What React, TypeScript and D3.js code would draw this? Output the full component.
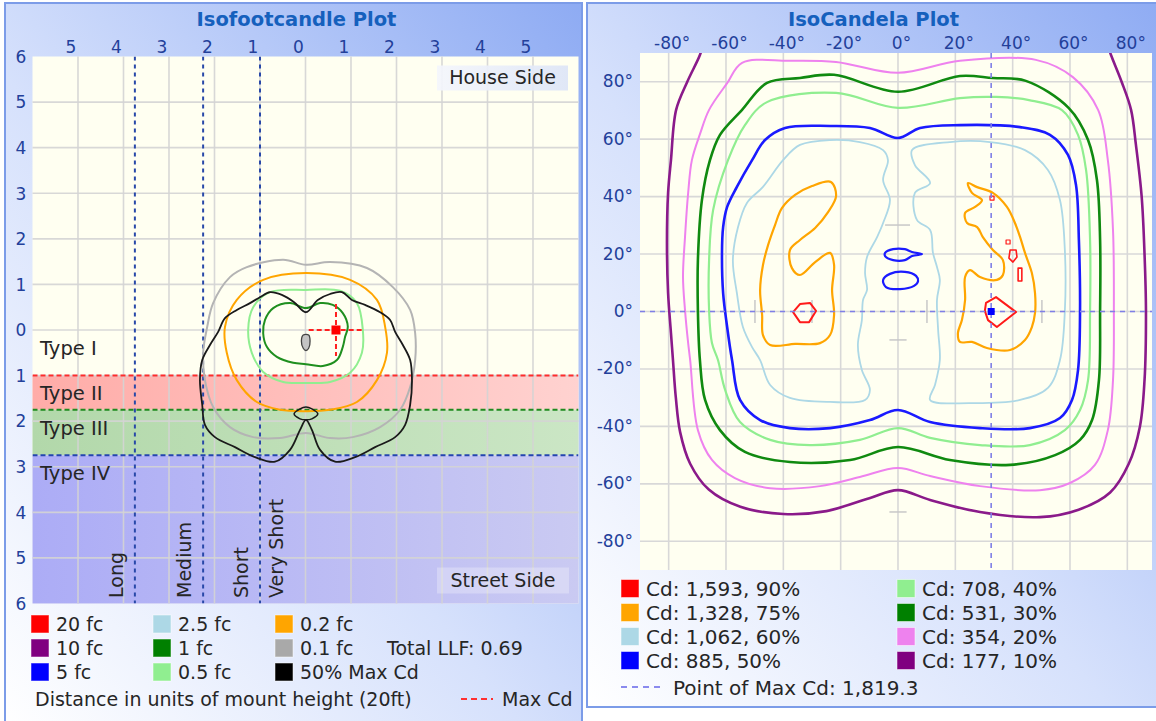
import React from "react";
import * as d3 from "d3";

type Pt = [number, number];

// ================= Isofootcandle plot (units of mount height) =================
const fcXTicks = [-5, -4, -3, -2, -1, 0, 1, 2, 3, 4, 5];
const fcYTicks = [6, 5, 4, 3, 2, 1, 0, -1, -2, -3, -4, -5, -6];
const typeBoundaries = [-1, -1.75, -2.75];
const typeBoundaryColors = ["#ff2b2b", "#1f8a1f", "#2445b0"];
const typeBands: [number, number][] = [[-1, -1.75], [-1.75, -2.75], [-2.75, -6]];
const typeBandIds = ["bandRed", "bandGreen", "bandBlue"];
const typeLabels = ["Type I", "Type II", "Type III", "Type IV"];
const typeLabelY = [-0.38, -1.37, -2.14, -3.12];
const lengthLines = [-3.75, -2.25, -1, -1];
const lengthLabels = ["Long", "Medium", "Short", "Very Short"];
const lengthLabelSide = [-1, -1, -1, 1];

const fc01Gray: Pt[] = [[-1.66, 1.16], [-1.29, 1.38], [-0.49, 1.54], [0.01, 1.43], [0.54, 1.49], [1.35, 1.36], [1.92, 0.94], [2.30, 0.44], [2.41, -0.07], [2.41, -0.66], [2.30, -1.25], [2.08, -1.75], [1.64, -2.13], [1.04, -2.35], [0.54, -2.37], [0.01, -2.26], [-0.56, -2.37], [-1.15, -2.35], [-1.66, -2.13], [-2.03, -1.69], [-2.21, -1.10], [-2.25, -0.50], [-2.16, 0.07], [-2.03, 0.59]];
const fc02Orange: Pt[] = [[0.01, 1.25], [-0.93, 1.10], [-1.51, 0.66], [-1.77, 0.07], [-1.73, -0.50], [-1.51, -1.10], [-1.07, -1.58], [-0.56, -1.75], [0.01, -1.78], [0.54, -1.75], [1.13, -1.58], [1.57, -1.10], [1.79, -0.50], [1.75, 0.07], [1.57, 0.66], [0.98, 1.10]];
const fc05LightGreen: Pt[] = [[0.01, 0.88], [-0.78, 0.83], [-1.15, 0.50], [-1.26, 0.0], [-1.18, -0.50], [-0.93, -0.92], [-0.49, -1.14], [0.01, -1.16], [0.54, -1.14], [0.98, -0.94], [1.24, -0.50], [1.26, 0.0], [1.13, 0.59], [0.76, 0.86]];
const fc1Green: Pt[] = [[0.01, 0.48], [-0.34, 0.59], [-0.71, 0.48], [-0.89, 0.22], [-0.93, -0.07], [-0.85, -0.37], [-0.63, -0.59], [-0.27, -0.72], [0.01, -0.75], [0.38, -0.79], [0.69, -0.66], [0.82, -0.37], [0.87, -0.15], [0.93, 0.07], [0.82, 0.37], [0.60, 0.55], [0.32, 0.59]];
const halfMaxBlack: Pt[] = [[0.01, 0.39], [0.27, 0.66], [0.54, 0.79], [0.80, 0.83], [1.02, 0.66], [1.31, 0.55], [1.64, 0.39], [1.86, 0.22], [1.97, -0.04], [2.14, -0.33], [2.30, -0.66], [2.34, -1.10], [2.30, -1.64], [2.19, -2.08], [1.97, -2.35], [1.53, -2.57], [1.09, -2.79], [0.65, -2.89], [0.32, -2.63], [0.14, -2.19], [0.01, -1.97], [-0.12, -2.19], [-0.34, -2.63], [-0.67, -2.89], [-1.11, -2.79], [-1.55, -2.57], [-1.99, -2.35], [-2.21, -2.08], [-2.27, -1.64], [-2.32, -1.10], [-2.27, -0.66], [-2.10, -0.33], [-1.92, -0.04], [-1.77, 0.26], [-1.51, 0.44], [-1.22, 0.59], [-1.00, 0.72], [-0.78, 0.83], [-0.52, 0.77], [-0.25, 0.61]];
const halfMaxLens: Pt[] = [[-0.25, -1.84], [-0.12, -1.73], [0.01, -1.69], [0.14, -1.73], [0.27, -1.84], [0.14, -1.95], [0.01, -1.97], [-0.12, -1.95]];
const centerBlob: Pt[] = [[-0.05, -0.11], [0.07, -0.11], [0.10, -0.24], [0.07, -0.40], [0.01, -0.45], [-0.05, -0.40], [-0.09, -0.24]];
const fcMaxPoint: Pt = [0.67, 0];
const fcMaxArm = [0.6, 0.57];

const fcLegendLabels = [["20 fc", "10 fc", "5 fc"], ["2.5 fc", "1 fc", "0.5 fc"], ["0.2 fc", "0.1 fc", "50% Max Cd"]];
const fcLegendColors = [["#ff0000", "#800080", "#0000ff"], ["#add8e6", "#008000", "#90ee90"], ["#ffa500", "#a9a9a9", "#000000"]];
const totalLLF = "Total LLF: 0.69";
const distanceNote = "Distance in units of mount height (20ft)";

// ================= IsoCandela plot (degrees) =================
const cdTicks = [-80, -60, -40, -20, 0, 20, 40, 60, 80];
const cdPurple10: Pt[] = [[-68.0, 93], [-69.1, 89.3], [-73.5, 80], [-77.4, 70.2], [-79.2, 52.7], [-80.2, 41.3], [-80.6, 23.9], [-80.2, 6.4], [-79.2, -7.5], [-78.5, -16.9], [-77.5, -30], [-76.0, -42], [-72.5, -53], [-66, -62], [-55, -68], [-40, -70.5], [-25, -69.5], [-10, -65], [0, -62.2], [11.2, -65.6], [28.6, -69.8], [49.5, -71.6], [63, -69], [74, -63], [80.5, -53], [84.4, -40], [86, -23.9], [86.5, 0], [86, 20], [85, 40], [83, 58], [81.3, 70.2], [78, 80], [74.3, 89.3], [73, 93]];
const cdViolet20: Pt[] = [[-71.9, 52.7], [-69, 62], [-65.9, 70.2], [-59.6, 79.5], [-54.4, 86.6], [-38, 87.3], [-21.6, 86.9], [0, 83.1], [21.6, 87.3], [48.1, 87.6], [61, 81.6], [69.8, 70.2], [73.2, 52.7], [75, 28.4], [75.3, 0.2], [75, -23.9], [73.2, -41.3], [68.7, -53.4], [60, -59.7], [49.5, -62.2], [28.6, -60.8], [11.2, -57.3], [0, -54.5], [-13.3, -57.6], [-27.2, -60.8], [-44.6, -61.5], [-56.9, -58], [-64.9, -51.7], [-69.8, -41.3], [-72.5, -16.9], [-73.2, -11.0], [-74.3, 0.5], [-75.0, 12.0], [-74.3, 25.9], [-73.2, 41.3]];
const cdGreen30: Pt[] = [[-65.6, 52.7], [-62.1, 61.5], [-54.4, 70.2], [-45.7, 79.6], [-34.2, 81.3], [-22.3, 82.4], [0, 76.5], [21.6, 82.0], [33.1, 81.3], [44.6, 80.3], [59.6, 70.8], [66.3, 59.7], [69.4, 45.8], [70.5, 24.9], [70.5, 0.2], [70.1, -23.9], [67.7, -37.8], [63.5, -44.7], [54.8, -50.0], [39.1, -53.4], [18.1, -51.7], [0, -47.2], [-16.7, -51.7], [-37.7, -52.4], [-53.4, -48.9], [-62.1, -41.3], [-67.3, -30.8], [-69.1, -16.9], [-69.8, 0.2], [-69.8, 17.9], [-68.4, 38.8]];
const cdLightGreen40: Pt[] = [[-59.3, 52.7], [-53.4, 64.9], [-45.7, 72.9], [-21.6, 76.1], [0, 70.9], [21.6, 74.3], [34.2, 74.7], [45.7, 73.6], [57.2, 70.1], [62.8, 61.5], [65.6, 49.3], [67.0, 24.9], [67.0, 0.2], [66.3, -23.9], [63.5, -34.3], [58.2, -41.3], [46.0, -46.5], [28.6, -46.5], [11.2, -44.0], [0, -40.6], [-13.3, -44.7], [-30.7, -46.5], [-44.6, -44.7], [-55.1, -38.5], [-60.3, -27.3], [-62.8, -16.9], [-64.9, -11.0], [-65.9, 0.5], [-65.9, 17.9], [-64.5, 35.3]];
const cdBlue50: Pt[] = [[-50.9, 52.7], [-46.4, 59.7], [-39.4, 63.9], [-23.7, 64.6], [-9.8, 63.9], [0, 60.4], [7.7, 63.9], [21.6, 64.9], [42.6, 64.2], [53.0, 61.5], [59.3, 54.5], [62.1, 44.0], [63.1, 24.9], [63.5, 0.2], [62.8, -20.4], [60.7, -30.8], [56.5, -37.1], [46.0, -40.6], [28.6, -40.6], [11.2, -38.5], [0, -34.3], [-9.8, -37.8], [-23.7, -40.6], [-37.7, -40.6], [-48.1, -37.8], [-55.1, -30.8], [-57.9, -16.9], [-59.6, -5.4], [-61.0, 6.4], [-61.4, 20.3], [-61.0, 29.4], [-59.6, 36.4], [-56.2, 43.4]];
const cdBlueBlobA: Pt[] = [[-4.5, 20.4], [-1.7, 21.7], [2.4, 21.7], [4.9, 20.7], [8.4, 20.0], [4.9, 19.3], [2.4, 17.9], [-1.7, 17.9], [-4.5, 19.3]];
const cdBlueBlobB: Pt[] = [[-5.2, 11.0], [-2.8, 13.1], [2.4, 13.8], [6.3, 12.4], [7.0, 10.6], [5.6, 8.9], [0.7, 7.8], [-4.2, 8.5]];
const cdLightBlue60L: Pt[] = [[-5.2, 56.2], [-13.3, 59.0], [-23.7, 59.7], [-34.2, 58.0], [-40.1, 52.7], [-47.1, 43.4], [-52.7, 37.8], [-55.8, 29.4], [-57.6, 17.9], [-56.2, 6.4], [-54.1, -5.4], [-50.9, -12.4], [-48.1, -16.9], [-44.6, -25.6], [-37.7, -30.1], [-23.7, -31.5], [-11.5, -30.8], [-9.8, -27.3], [-12.6, -20.4], [-14.0, -11.7], [-12.6, -3.0], [-12.2, 4.0], [-10.8, 7.5], [-11.5, 13.4], [-10.8, 19.0], [-7.3, 25.9], [-5.2, 30.8], [-2.8, 38.8], [-5.2, 45.8], [-3.5, 52.7]];
const cdLightBlue60R: Pt[] = [[4.9, 56.2], [5.9, 51.0], [11.2, 44.7], [5.9, 41.3], [6.6, 31.9], [11.2, 28.4], [12.2, 20.4], [13.6, 15.5], [14.6, 11.0], [13.6, 4.0], [14.0, -6.4], [14.6, -16.9], [12.9, -25.6], [11.2, -30.8], [25.1, -31.9], [42.6, -30.8], [52.3, -26.6], [56.5, -16.9], [58.2, 0.2], [58.2, 21.4], [56.5, 38.8], [52.3, 49.3], [44.3, 56.2], [32.1, 59.0], [18.1, 59.0]];
const cdOrange75L: Pt[] = [[-23.4, 45.1], [-30.0, 43.7], [-35.9, 40.6], [-40.5, 36.0], [-42.9, 30.1], [-45.3, 23.2], [-47.1, 16.2], [-48.1, 7.5], [-47.4, -1.2], [-47.1, -8.2], [-44.6, -11.7], [-35.9, -11.3], [-27.2, -11.0], [-23.7, -8.2], [-22.3, -1.2], [-23.0, 7.5], [-22.3, 16.2], [-23.7, 20.4], [-28.9, 17.2], [-34.2, 12.7], [-37.0, 15.1], [-37.7, 21.4], [-34.2, 24.9], [-28.9, 29.1], [-24.4, 34.6], [-21.6, 40.2]];
const cdOrange75R: Pt[] = [[24.4, 44.7], [27.6, 43.3], [33.1, 41.3], [38.0, 36.4], [40.8, 30.8], [42.6, 25.9], [44.3, 20.4], [46.7, 13.4], [47.8, 6.4], [47.8, -0.5], [46.7, -5.4], [44.3, -9.9], [39.1, -13.4], [31.0, -12.7], [25.8, -10.6], [21.6, -10.6], [20.9, -7.5], [22.3, -3.0], [23.4, 4.0], [23.4, 12.0], [25.1, 14.4], [28.6, 12.0], [34.5, 11.0], [36.6, 12.7], [36.6, 17.9], [33.1, 21.4], [29.6, 25.9], [27.6, 29.4], [24.1, 30.8], [23.4, 34.3], [26.9, 36.4], [29.3, 38.8], [25.8, 41.3]];
const cdRed90Main: Pt[] = [[30.7, 3.0], [34.2, 5.0], [41.2, -0.2], [34.5, -5.4], [31.4, -3.0], [30.3, 0.2]];
const cdRed90Left: Pt[] = [[-36.6, -0.2], [-34.2, 2.6], [-30.7, 3.0], [-28.6, 0.2], [-31.0, -3.7], [-34.2, -3.7]];
const cdRed90BlobA: Pt[] = [[39.1, 21.4], [41.2, 21.4], [41.5, 19.0], [40.1, 17.2], [38.7, 18.6]];
const cdRed90BlobB: Pt[] = [[41.9, 15.1], [43.2, 15.1], [43.2, 10.6], [41.9, 10.6]];
const cdRed90DotA: Pt[] = [[37.7, 24.9], [39.1, 24.9], [39.1, 23.5], [37.7, 23.5]];
const cdRed90DotB: Pt[] = [[32.1, 40.2], [33.5, 40.2], [33.5, 38.8], [32.1, 38.8]];
const cdGrayMarks: [Pt, Pt][] = [[[-49.9, 4], [-49.9, -4]], [[-30, 4], [-30, -4]], [[10.1, 4], [10.1, -4]], [[50.2, 4], [50.2, -4]], [[-4.5, 30.1], [4.2, 30.1]], [[-3, -9.9], [3, -9.9]], [[-3, -69.8], [3, -69.8]]];
const cdMaxPoint: Pt = [32.5, 0];

const cdLegendLabels = [["Cd: 1,593, 90%", "Cd: 1,328, 75%", "Cd: 1,062, 60%", "Cd: 885, 50%"], ["Cd: 708, 40%", "Cd: 531, 30%", "Cd: 354, 20%", "Cd: 177, 10%"]];
const cdLegendColors = [["#ff0000", "#ffa500", "#add8e6", "#0000ff"], ["#90ee90", "#008000", "#ee82ee", "#800080"]];
const maxCdNote = "Point of Max Cd: 1,819.3";

const FONT = "'DejaVu Sans', Verdana, sans-serif";
const TICK = "#23409a";
const TITLE = "#1560bd";
const TXT = "#262626";

export default function App() {
  const lx = d3.scaleLinear().domain([-6, 6]).range([32.5, 578.5]);
  const ly = d3.scaleLinear().domain([6, -6]).range([56.5, 603.5]);
  const rx = d3.scaleLinear().domain([-90, 90]).range([640, 1156]);
  const ry = d3.scaleLinear().domain([90, -90]).range([53, 570]);

  const lClosed = d3.line<Pt>().x(d => lx(d[0])).y(d => ly(d[1])).curve(d3.curveCatmullRomClosed.alpha(0.5));
  const rClosed = d3.line<Pt>().x(d => rx(d[0])).y(d => ry(d[1])).curve(d3.curveCatmullRomClosed.alpha(0.5));
  const rPoly = d3.line<Pt>().x(d => rx(d[0])).y(d => ry(d[1])).curve(d3.curveLinearClosed);
  const rOpen = d3.line<Pt>().x(d => rx(d[0])).y(d => ry(d[1])).curve(d3.curveCatmullRom.alpha(0.5));

  const lL = lx(-6), lR = lx(6), lT = ly(6), lB = ly(-6);
  const rL = rx(-90), rR = 1152, rT = ry(90), rB = ry(-90);

  const fcContours: { d: Pt[]; c: string; w: number }[] = [
    { d: fc01Gray, c: "#b4b4b4", w: 2 },
    { d: fc02Orange, c: "#ffa500", w: 2 },
    { d: fc05LightGreen, c: "#90ee90", w: 2 },
    { d: fc1Green, c: "#1f8f1f", w: 2 },
    { d: halfMaxBlack, c: "#1a1a1a", w: 1.8 },
    { d: halfMaxLens, c: "#1a1a1a", w: 1.6 },
  ];

  const cdContours: { d: Pt[]; c: string; w: number; poly?: boolean }[] = [
    { d: cdViolet20, c: "#ee82ee", w: 2 },
    { d: cdGreen30, c: "#108a10", w: 2.6 },
    { d: cdLightGreen40, c: "#90ee90", w: 2.2 },
    { d: cdBlue50, c: "#1a1aff", w: 2.6 },
    { d: cdBlueBlobA, c: "#1a1aff", w: 2.2 },
    { d: cdBlueBlobB, c: "#1a1aff", w: 2.2 },
    { d: cdLightBlue60L, c: "#add8e6", w: 1.8 },
    { d: cdLightBlue60R, c: "#add8e6", w: 1.8 },
    { d: cdOrange75L, c: "#ffa500", w: 2.2 },
    { d: cdOrange75R, c: "#ffa500", w: 2.2 },
    { d: cdRed90Main, c: "#ff1a1a", w: 2, poly: true },
    { d: cdRed90Left, c: "#ff1a1a", w: 2, poly: true },
    { d: cdRed90BlobA, c: "#ff1a1a", w: 1.6, poly: true },
    { d: cdRed90BlobB, c: "#ff1a1a", w: 1.6, poly: true },
    { d: cdRed90DotA, c: "#ff1a1a", w: 1.2, poly: true },
    { d: cdRed90DotB, c: "#ff1a1a", w: 1.2, poly: true },
  ];

  return (
    <svg width={1156} height={721} style={{ position: "absolute", left: 0, top: 0, background: "#fff" }} fontFamily={FONT}>
      <defs>
        <linearGradient id="panelGrad" x1="0" y1="1" x2="1" y2="0">
          <stop offset="0" stopColor="#ffffff" />
          <stop offset="0.45" stopColor="#d6e1fc" />
          <stop offset="1" stopColor="#8eabf3" />
        </linearGradient>
        <linearGradient id="bandRed" x1="0" y1="0" x2="1" y2="0">
          <stop offset="0" stopColor="#ffaca8" />
          <stop offset="1" stopColor="#ffd2d0" />
        </linearGradient>
        <linearGradient id="bandGreen" x1="0" y1="0" x2="1" y2="0">
          <stop offset="0" stopColor="#b2d8aa" />
          <stop offset="1" stopColor="#cbe6c5" />
        </linearGradient>
        <linearGradient id="bandBlue" x1="0" y1="0" x2="1" y2="0">
          <stop offset="0" stopColor="#acacf6" />
          <stop offset="1" stopColor="#cacaf2" />
        </linearGradient>
        <linearGradient id="boxGrad" x1="0" y1="0" x2="1" y2="0">
          <stop offset="0" stopColor="#f4f6fc" />
          <stop offset="1" stopColor="#dde5f7" />
        </linearGradient>
        <clipPath id="clipL"><rect x={lL} y={lT} width={lR - lL} height={lB - lT} /></clipPath>
        <clipPath id="clipR"><rect x={rL} y={rT} width={rR - rL} height={rB - rT} /></clipPath>
      </defs>

      {/* ================= LEFT PANEL ================= */}
      <rect x={5} y={3} width={577} height={725} fill="url(#panelGrad)" stroke="#7c9ce8" strokeWidth={2} />
      <text x={296.5} y={26} textAnchor="middle" fontWeight="bold" fontSize={19.5} fill={TITLE}>Isofootcandle Plot</text>

      <rect x={lL} y={lT} width={lR - lL} height={lB - lT} fill="#fffff1" />
      {typeBands.map((b, i) => (
        <rect key={"band" + i} x={lL} y={ly(b[0])} width={lR - lL} height={ly(b[1]) - ly(b[0])} fill={`url(#${typeBandIds[i]})`} />
      ))}
      {fcXTicks.map(t => (
        <line key={"gx" + t} x1={lx(t)} x2={lx(t)} y1={lT} y2={lB} stroke="#d4d4d4" strokeOpacity={0.9} strokeWidth={1.6} />
      ))}
      {fcYTicks.slice(1, -1).map(t => (
        <line key={"gy" + t} x1={lL} x2={lR} y1={ly(t)} y2={ly(t)} stroke="#d4d4d4" strokeOpacity={0.9} strokeWidth={1.6} />
      ))}
      {fcXTicks.map(t => (
        <text key={"tx" + t} x={lx(t) - 7} y={52.5} textAnchor="middle" fontSize={17} fill={TICK}>{Math.abs(t)}</text>
      ))}
      {fcYTicks.map(t => (
        <text key={"ty" + t} x={21} y={ly(t) + 6.3} textAnchor="middle" fontSize={17} fill={TICK}>{Math.abs(t)}</text>
      ))}

      <g clipPath="url(#clipL)">
        {typeBoundaries.map((b, i) => (
          <line key={"tb" + i} x1={lL} x2={lR} y1={ly(b)} y2={ly(b)} stroke={typeBoundaryColors[i]} strokeWidth={2} strokeDasharray="5,3" />
        ))}
        {lengthLines.slice(0, 3).map((v, i) => (
          <line key={"ll" + i} x1={lx(v)} x2={lx(v)} y1={lT} y2={lB} stroke="#2848a8" strokeWidth={2} strokeDasharray="4,4" />
        ))}
        {fcContours.map((c, i) => (
          <path key={"fc" + i} d={lClosed(c.d) || ""} fill="none" stroke={c.c} strokeWidth={c.w} strokeLinejoin="round" />
        ))}
        <path d={lClosed(centerBlob) || ""} fill="#c4c4c4" stroke="#444" strokeWidth={1.3} />
        <line x1={lx(fcMaxPoint[0] - fcMaxArm[0])} x2={lx(fcMaxPoint[0] + fcMaxArm[0])} y1={ly(fcMaxPoint[1])} y2={ly(fcMaxPoint[1])} stroke="#ff2020" strokeWidth={2} strokeDasharray="5,3" />
        <line x1={lx(fcMaxPoint[0])} x2={lx(fcMaxPoint[0])} y1={ly(fcMaxPoint[1] + fcMaxArm[1])} y2={ly(fcMaxPoint[1] - fcMaxArm[1])} stroke="#ff2020" strokeWidth={2} strokeDasharray="5,3" />
        <rect x={lx(fcMaxPoint[0]) - 4.5} y={ly(fcMaxPoint[1]) - 4.5} width={9} height={9} fill="#ff0000" />
      </g>

      {typeLabels.map((t, i) => (
        <text key={"tl" + i} x={40} y={ly(typeLabelY[i]) + 7.5} fontSize={19.5} fill={TXT}>{t}</text>
      ))}
      {lengthLabels.map((t, i) => {
        const bx = lx(lengthLines[i]) + (lengthLabelSide[i] < 0 ? -12 : 23);
        return (
          <text key={"len" + i} transform={`translate(${bx},598) rotate(-90)`} fontSize={19} fill={TXT}>{t}</text>
        );
      })}

      <rect x={437} y={65.5} width={131} height={25} fill="url(#boxGrad)" opacity={0.92} />
      <text x={502.5} y={84} textAnchor="middle" fontSize={19} fill={TXT}>House Side</text>
      <rect x={437} y={567.5} width={132} height={26} fill="#ffffff" opacity={0.28} />
      <text x={503} y={587} textAnchor="middle" fontSize={19} fill={TXT}>Street Side</text>

      {fcLegendLabels.map((col, ci) =>
        col.map((lab, ri) => {
          const sx = [31, 153, 275][ci];
          const cy = 624 + ri * 24;
          return (
            <g key={"fl" + ci + ri}>
              <rect x={sx} y={cy - 9} width={18} height={18} fill={fcLegendColors[ci][ri]} stroke="#ffffff" strokeOpacity={0.5} strokeWidth={1} />
              <text x={sx + 25} y={cy + 7} fontSize={19} fill={TXT}>{lab}</text>
            </g>
          );
        })
      )}
      <text x={387} y={655} fontSize={19} fill={TXT}>{totalLLF}</text>
      <text x={35} y={706} fontSize={19} fill={TXT}>{distanceNote}</text>
      <line x1={461} x2={493} y1={699} y2={699} stroke="#ff3030" strokeWidth={2} strokeDasharray="6,4" />
      <text x={502} y={706} fontSize={19} fill={TXT}>Max Cd</text>

      {/* ================= RIGHT PANEL ================= */}
      <rect x={587} y={3} width={580} height={704} fill="url(#panelGrad)" stroke="#7c9ce8" strokeWidth={2} />
      <text x={873.5} y={26} textAnchor="middle" fontWeight="bold" fontSize={19.5} fill={TITLE}>IsoCandela Plot</text>

      <rect x={rL} y={rT} width={rR - rL} height={rB - rT} fill="#fffff1" />
      {cdTicks.map(t => (
        <line key={"rgx" + t} x1={rx(t)} x2={rx(t)} y1={rT} y2={rB} stroke="#d8d8d8" strokeWidth={1.6} />
      ))}
      {cdTicks.map(t => (
        <line key={"rgy" + t} x1={rL} x2={rR} y1={ry(t)} y2={ry(t)} stroke="#d8d8d8" strokeWidth={1.6} />
      ))}
      {cdTicks.map(t => (
        <text key={"rtx" + t} x={rx(t) + 3.5} y={48.5} textAnchor="middle" fontSize={17} fill={TICK}>{t}°</text>
      ))}
      {cdTicks.map(t => (
        <text key={"rty" + t} x={633} y={ry(t) + 5.5} textAnchor="end" fontSize={17} fill={TICK}>{t}°</text>
      ))}

      <g clipPath="url(#clipR)">
        {cdGrayMarks.map((m, i) => (
          <line key={"gm" + i} x1={rx(m[0][0])} y1={ry(m[0][1])} x2={rx(m[1][0])} y2={ry(m[1][1])} stroke="#c8c8c8" strokeWidth={1.5} />
        ))}
        <path d={rOpen(cdPurple10) || ""} fill="none" stroke="#8a1a8a" strokeWidth={2.6} />
        {cdContours.map((c, i) => (
          <path key={"cd" + i} d={(c.poly ? rPoly(c.d) : rClosed(c.d)) || ""} fill="none" stroke={c.c} strokeWidth={c.w} strokeLinejoin="round" />
        ))}
        <line x1={rL} x2={rR} y1={ry(cdMaxPoint[1])} y2={ry(cdMaxPoint[1])} stroke="#7f7fe6" strokeWidth={1.6} strokeDasharray="5,5" />
        <line x1={rx(cdMaxPoint[0])} x2={rx(cdMaxPoint[0])} y1={rT} y2={rB} stroke="#7f7fe6" strokeWidth={1.6} strokeDasharray="5,5" />
        <rect x={rx(cdMaxPoint[0]) - 3.5} y={ry(cdMaxPoint[1]) - 3.5} width={7} height={7} fill="#0000ff" />
      </g>

      {cdLegendLabels.map((col, ci) =>
        col.map((lab, ri) => {
          const sx = [621, 897][ci];
          const cy = 588.5 + ri * 24;
          return (
            <g key={"cl" + ci + ri}>
              <rect x={sx} y={cy - 9} width={18} height={18} fill={cdLegendColors[ci][ri]} stroke="#ffffff" strokeOpacity={0.5} strokeWidth={1} />
              <text x={sx + 25} y={cy + 7.5} fontSize={20} fill={TXT}>{lab}</text>
            </g>
          );
        })
      )}
      <line x1={621} x2={664} y1={687} y2={687} stroke="#8a8aee" strokeWidth={2} strokeDasharray="6,5" />
      <text x={673} y={694.5} fontSize={20} fill={TXT}>{maxCdNote}</text>
    </svg>
  );
}
